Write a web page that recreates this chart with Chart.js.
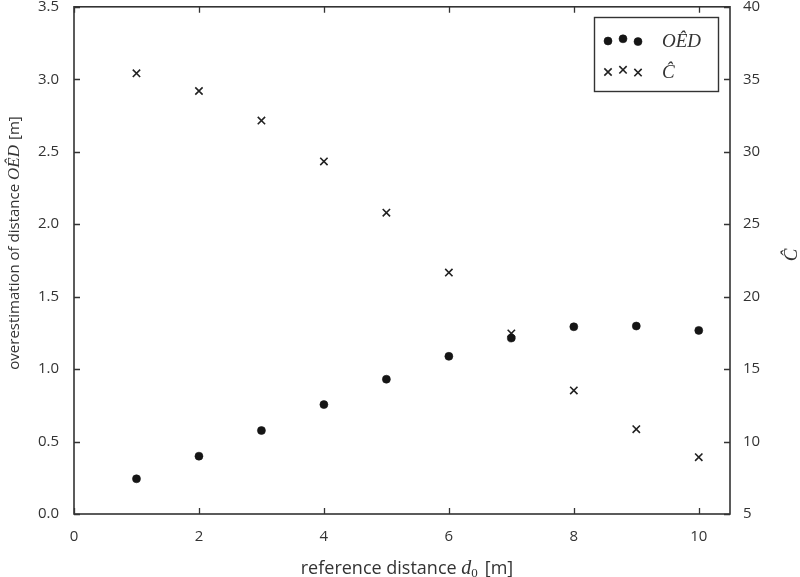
<!DOCTYPE html>
<html>
<head>
<meta charset="utf-8">
<script src="https://cdn.jsdelivr.net/npm/chart.js@4.4.0/dist/chart.umd.min.js"></script>
<style>
  html, body { margin: 0; padding: 0; background: #fff; }
</style>
</head>
<body>
<canvas id="chart" width="800" height="577"></canvas>
<script>
// data
const distances = [1, 2, 3, 4, 5, 6, 7, 8, 9, 10];
const oedValues = [0.243, 0.399, 0.576, 0.755, 0.930, 1.088, 1.214, 1.292, 1.297, 1.267];
const cValues = [35.41, 34.19, 32.15, 29.33, 25.79, 21.66, 17.46, 13.53, 10.85, 8.92];
const seriesNames = ['OÊD', 'Ĉ'];

const sans = '"Open Sans", "DejaVu Sans", sans-serif';
const serif = '"Liberation Serif", "DejaVu Serif", serif';
const ink = '#333';

// draw a run of text pieces with different fonts, starting at x (left) on baseline y
function drawRuns(ctx, runs, x, y) {
    let cx = x;
    runs.forEach(r => {
        ctx.font = r.font;
        ctx.fillText(r.text, cx, y + (r.dy || 0));
        cx += ctx.measureText(r.text).width + (r.gap || 0);
    });
}
function runsWidth(ctx, runs) {
    let w = 0;
    runs.forEach(r => { ctx.font = r.font; w += ctx.measureText(r.text).width + (r.gap || 0); });
    return w;
}

const framePlugin = {
    id: 'frame',
    afterDraw(chart) {
        const ctx = chart.ctx;
        const a = chart.chartArea;
        const xs = chart.scales.x, yl = chart.scales.y, yr = chart.scales.y2;
        ctx.save();
        ctx.strokeStyle = ink;
        ctx.lineWidth = 1.6;
        ctx.strokeRect(a.left, a.top, a.right - a.left, a.bottom - a.top);

        // inward tick marks
        const tl = 6;
        ctx.lineWidth = 1.3;
        ctx.beginPath();
        xs.ticks.forEach(t => {
            const px = Math.round(xs.getPixelForValue(t.value)) + 0.5;
            ctx.moveTo(px, a.bottom); ctx.lineTo(px, a.bottom - tl);
            ctx.moveTo(px, a.top); ctx.lineTo(px, a.top + tl);
        });
        yl.ticks.forEach(t => {
            const py = Math.round(yl.getPixelForValue(t.value)) + 0.5;
            ctx.moveTo(a.left, py); ctx.lineTo(a.left + tl, py);
        });
        yr.ticks.forEach(t => {
            const py = Math.round(yr.getPixelForValue(t.value)) + 0.5;
            ctx.moveTo(a.right, py); ctx.lineTo(a.right - tl, py);
        });
        ctx.stroke();

        ctx.fillStyle = ink;
        ctx.textBaseline = 'alphabetic';

        // x title
        const xRuns = [
            { text: 'reference distance ', font: '18px ' + sans },
            { text: 'd', font: 'italic 20px ' + serif },
            { text: '0', font: '13px ' + serif, dy: 3, gap: 7 },
            { text: '[m]', font: '18px ' + sans }
        ];
        const xw = runsWidth(ctx, xRuns);
        drawRuns(ctx, xRuns, 407 - xw / 2, 574);

        // left y title
        const yRuns = [
            { text: 'overestimation of distance ', font: '15px ' + sans },
            { text: 'OÊD', font: 'italic 17px ' + serif, gap: 5 },
            { text: '[m]', font: '15px ' + sans }
        ];
        const yw = runsWidth(ctx, yRuns);
        ctx.save();
        ctx.translate(19, 243);
        ctx.rotate(-Math.PI / 2);
        drawRuns(ctx, yRuns, -yw / 2, 0);
        ctx.restore();

        // right y title
        ctx.save();
        ctx.translate(797, 255);
        ctx.rotate(-Math.PI / 2);
        ctx.font = 'italic 19px ' + serif;
        ctx.textAlign = 'center';
        ctx.fillText('Ĉ', 0, 0);
        ctx.restore();

        // legend box with three markers per entry
        ctx.lineWidth = 1.4;
        ctx.strokeRect(594.5, 17.5, 124, 74);
        const jitter = [0, -2.2, 0.6];
        const markX = [608, 623, 638];
        const rows = [41, 72];
        chart.data.datasets.forEach((ds, i) => {
            ctx.fillStyle = ds.backgroundColor;
            ctx.strokeStyle = ds.borderColor;
            ctx.lineWidth = ds.borderWidth;
            markX.forEach((mx, k) => {
                Chart.helpers.drawPoint(ctx, {
                    pointStyle: ds.pointStyle, radius: ds.pointRadius,
                    rotation: 0, borderWidth: ds.borderWidth
                }, mx, rows[i] + jitter[k]);
            });
            ctx.fillStyle = ink;
            ctx.font = 'italic 19px ' + serif;
            ctx.textBaseline = 'middle';
            ctx.fillText(seriesNames[i], 662, rows[i] + 1);
        });
        ctx.restore();
    }
};

// keep the plot box exactly where the reference has it
function noPad(scale) {
    scale.paddingTop = 0;
    scale.paddingBottom = 0;
    scale.paddingLeft = 0;
    scale.paddingRight = 0;
}

new Chart(document.getElementById('chart'), {
    type: 'scatter',
    data: {
        datasets: [
            {
                label: seriesNames[0],
                data: distances.map((d, i) => ({ x: d, y: oedValues[i] })),
                yAxisID: 'y',
                pointStyle: 'circle',
                pointRadius: 4,
                backgroundColor: '#151515',
                borderColor: '#151515',
                borderWidth: 0.6
            },
            {
                label: seriesNames[1],
                data: distances.map((d, i) => ({ x: d, y: cValues[i] })),
                yAxisID: 'y2',
                pointStyle: 'crossRot',
                pointRadius: 5.2,
                backgroundColor: '#222',
                borderColor: '#222',
                borderWidth: 1.6
            }
        ]
    },
    options: {
        responsive: false,
        animation: false,
        layout: { padding: { top: 6, left: 0, right: 0, bottom: 0 } },
        plugins: {
            legend: { display: false },
            tooltip: { enabled: false }
        },
        scales: {
            x: {
                type: 'linear',
                position: 'bottom',
                min: 0,
                max: 10.5,
                grid: { display: false, drawTicks: false },
                border: { display: false },
                ticks: {
                    stepSize: 2,
                    includeBounds: false,
                    padding: 14,
                    color: ink,
                    font: { family: sans, size: 15 }
                },
                afterFit(scale) { scale.height = 63; noPad(scale); }
            },
            y: {
                type: 'linear',
                position: 'left',
                min: 0,
                max: 3.5,
                grid: { display: false, drawTicks: false },
                border: { display: false },
                ticks: {
                    stepSize: 0.5,
                    padding: 15,
                    color: ink,
                    font: { family: sans, size: 15 },
                    callback: v => v.toFixed(1)
                },
                afterFit(scale) { scale.width = 74; noPad(scale); }
            },
            y2: {
                type: 'linear',
                position: 'right',
                min: 5,
                max: 40,
                grid: { display: false, drawTicks: false },
                border: { display: false },
                ticks: {
                    stepSize: 5,
                    padding: 13,
                    color: ink,
                    font: { family: sans, size: 15 }
                },
                afterFit(scale) { scale.width = 70; noPad(scale); }
            }
        }
    },
    plugins: [framePlugin]
});
</script>
</body>
</html>
